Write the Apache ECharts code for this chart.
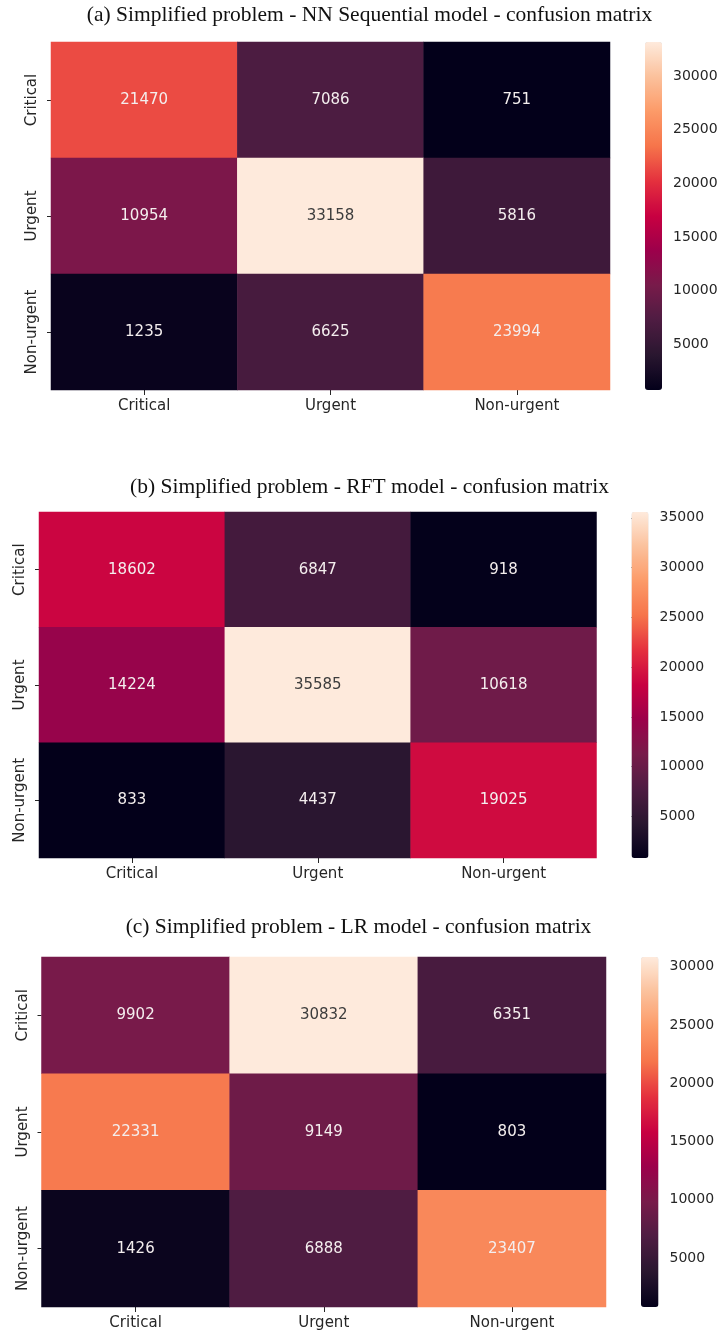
<!DOCTYPE html>
<html>
<head>
<meta charset="utf-8">
<script src="https://cdn.jsdelivr.net/npm/echarts@6/dist/echarts.min.js"></script>
<style>
html,body{margin:0;padding:0;background:#fff;}
#chart{width:724px;height:1336px;}
</style>
</head>
<body>
<div id="chart"></div>
<script>
// ---- data ----
const categories = ['Critical', 'Urgent', 'Non-urgent'];
const titles = [
  '(a) Simplified problem - NN Sequential model - confusion matrix',
  '(b) Simplified problem - RFT model - confusion matrix',
  '(c) Simplified problem - LR model - confusion matrix'
];
// rows = true class (Critical, Urgent, Non-urgent), cols = predicted
const nnValues  = [[21470, 7086, 751], [10954, 33158, 5816], [1235, 6625, 23994]];
const rftValues = [[18602, 6847, 918], [14224, 35585, 10618], [833, 4437, 19025]];
const lrValues  = [[9902, 30832, 6351], [22331, 9149, 803], [1426, 6888, 23407]];
const ticksA = [5000, 10000, 15000, 20000, 25000, 30000];
const ticksB = [5000, 10000, 15000, 20000, 25000, 30000, 35000];
const ticksC = [5000, 10000, 15000, 20000, 25000, 30000];

// rocket-like colormap as seen in the reference (evenly spaced stops 0..1)
const rocket = ['#03001a', '#29162f', '#4e1c42', '#771b4a', '#9c004b', '#c80041',
                '#e4303e', '#f6744a', '#fc9a68', '#fbc19c', '#feeadc'];

// ---- layout ----
const panels = [
  {vals: nnValues, ticks: ticksA, title: titles[0], tx: 369.5, ty: 15, g: {l: 51, t: 42, w: 559, h: 348}, cb: {l: 645, w: 17}},
  {vals: rftValues, ticks: ticksB, title: titles[1], tx: 369.5, ty: 487, g: {l: 39, t: 512, w: 557.5, h: 346}, cb: {l: 631.5, w: 17}},
  {vals: lrValues, ticks: ticksC, title: titles[2], tx: 358.5, ty: 927, g: {l: 41.5, t: 957, w: 564.5, h: 350}, cb: {l: 641, w: 17.5}}
];

const textColor = '#262626';
const option = {
  backgroundColor: '#fff',
  animation: false,
  title: [], grid: [], xAxis: [], yAxis: [], visualMap: [], series: []
};

panels.forEach((p, i) => {
  const flat = p.vals.flat();
  const vmin = Math.min(...flat), vmax = Math.max(...flat);
  option.title.push({
    text: p.title, left: p.tx, top: p.ty, textAlign: 'center', textVerticalAlign: 'middle', padding: 0,
    textStyle: {fontFamily: 'Liberation Serif', fontWeight: 'normal', fontSize: 21.5, color: '#111'}
  });
  // heatmap grid
  option.grid.push({left: p.g.l, top: p.g.t, width: p.g.w, height: p.g.h, containLabel: false});
  option.xAxis.push({
    type: 'category', data: categories, gridIndex: 2 * i,
    axisLine: {show: false}, splitLine: {show: false},
    axisTick: {show: true, alignWithLabel: true, length: 5, lineStyle: {color: textColor}},
    axisLabel: {fontFamily: 'DejaVu Sans', fontSize: 15, color: textColor, margin: 9}
  });
  option.yAxis.push({
    type: 'category', data: categories, gridIndex: 2 * i, inverse: true,
    axisLine: {show: false}, splitLine: {show: false},
    axisTick: {show: true, alignWithLabel: true, length: 4, lineStyle: {color: textColor}},
    axisLabel: {fontFamily: 'DejaVu Sans', fontSize: 15, color: textColor, rotate: 90, margin: 11}
  });
  const data = [];
  p.vals.forEach((row, r) => row.forEach((v, c) => {
    const n = (v - vmin) / (vmax - vmin);
    data.push({value: [c, r, v], label: {color: n > 0.85 ? '#3c3c3c' : '#f4eeee'}});
  }));
  option.series.push({
    type: 'heatmap', xAxisIndex: 2 * i, yAxisIndex: 2 * i, data: data,
    itemStyle: {borderWidth: 0},
    label: {show: true, fontFamily: 'DejaVu Sans', fontSize: 15, formatter: d => String(d.value[2])},
    emphasis: {disabled: true}
  });
  // colorbar
  option.visualMap.push({
    type: 'continuous', min: vmin, max: vmax, seriesIndex: i, calculable: false,
    orient: 'vertical', left: p.cb.l, top: p.g.t, itemWidth: p.cb.w, itemHeight: p.g.h,
    padding: 0, inRange: {color: rocket}, hoverLink: false
  });
  option.grid.push({left: p.cb.l, top: p.g.t, width: p.cb.w, height: p.g.h});
  option.xAxis.push({type: 'value', gridIndex: 2 * i + 1, show: false});
  option.yAxis.push({
    type: 'value', gridIndex: 2 * i + 1, position: 'right', min: vmin, max: vmax,
    axisLine: {show: false}, splitLine: {show: false},
    axisTick: {show: true, length: 5, customValues: p.ticks, lineStyle: {color: textColor}},
    axisLabel: {customValues: p.ticks, formatter: v => String(v), fontFamily: 'DejaVu Sans', fontSize: 14, color: textColor, margin: 11}
  });
});

const chart = echarts.init(document.getElementById('chart'), null, {renderer: 'canvas'});
chart.setOption(option);
</script>
</body>
</html>
